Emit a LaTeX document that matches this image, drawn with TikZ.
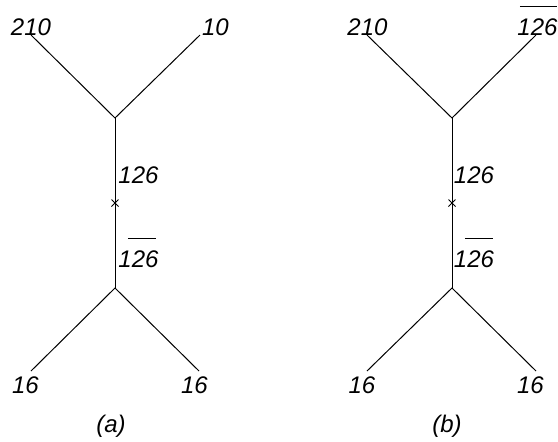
\documentclass[tikz,border=0pt]{standalone}
\usepackage{fontspec}
\setmainfont{Liberation Sans}
\usetikzlibrary{shapes.misc}
\newcommand\ovl[3]{\makebox[0pt][l]{\hspace{#1}\rule[14pt]{#2}{0.5pt}}#3}
\begin{document}
\begin{tikzpicture}[x=0.5pt,y=-0.5pt,
  leg/.style={line width=0.5pt,black},
  lbl/.style={inner sep=0pt,anchor=base,font=\fontsize{12}{14}\selectfont\itshape},
  mark/.style={}]
\useasboundingbox (0,0) rectangle (558,441);
% ---- (a)
\coordinate (a1) at (31,35);
\coordinate (a2) at (200,35);
\coordinate (av1) at (115,118);
\coordinate (av2) at (115,288);
\coordinate (a3) at (31,371);
\coordinate (a4) at (199,371);
\node[cross out,draw,line width=0.5pt,minimum size=3pt,inner sep=0pt] (ax) at (115,203) {};
\draw[leg] (a1) -- (av1) -- (a2);
\draw[leg] (av1) -- (av2);
\draw[leg] (a3) -- (av2) -- (a4);
\node[lbl] (la1) at (31,35) {210};
\node[lbl] (la2) at (215.5,35) {10};
\node[lbl] (lam1) at (138.5,183) {126};
\node[lbl] (lam2) at (138.5,267) {\ovl{4.75pt}{14pt}{126}};
\node[lbl] (la3) at (25.5,393) {16};
\node[lbl] (la4) at (194.5,393) {16};
\node[lbl] (capa) at (111,432) {(a)};
% ---- (b)
\coordinate (b1) at (367,35);
\coordinate (b2) at (536,35);
\coordinate (bv1) at (452,118);
\coordinate (bv2) at (452,288);
\coordinate (b3) at (367,371);
\coordinate (b4) at (536,371);
\node[cross out,draw,line width=0.5pt,minimum size=3pt,inner sep=0pt] (bx) at (452,203) {};
\draw[leg] (b1) -- (bv1) -- (b2);
\draw[leg] (bv1) -- (bv2);
\draw[leg] (b3) -- (bv2) -- (b4);
\node[lbl] (lb1) at (367.5,35) {210};
\node[lbl] (lb2) at (537.5,35) {\ovl{1.25pt}{18.5pt}{126}};
\node[lbl] (lbm1) at (474,183) {126};
\node[lbl] (lbm2) at (474,267) {\ovl{5.5pt}{14pt}{126}};
\node[lbl] (lb3) at (362,393) {16};
\node[lbl] (lb4) at (530.5,393) {16};
\node[lbl] (capb) at (447,432) {(b)};
\end{tikzpicture}
\end{document}
